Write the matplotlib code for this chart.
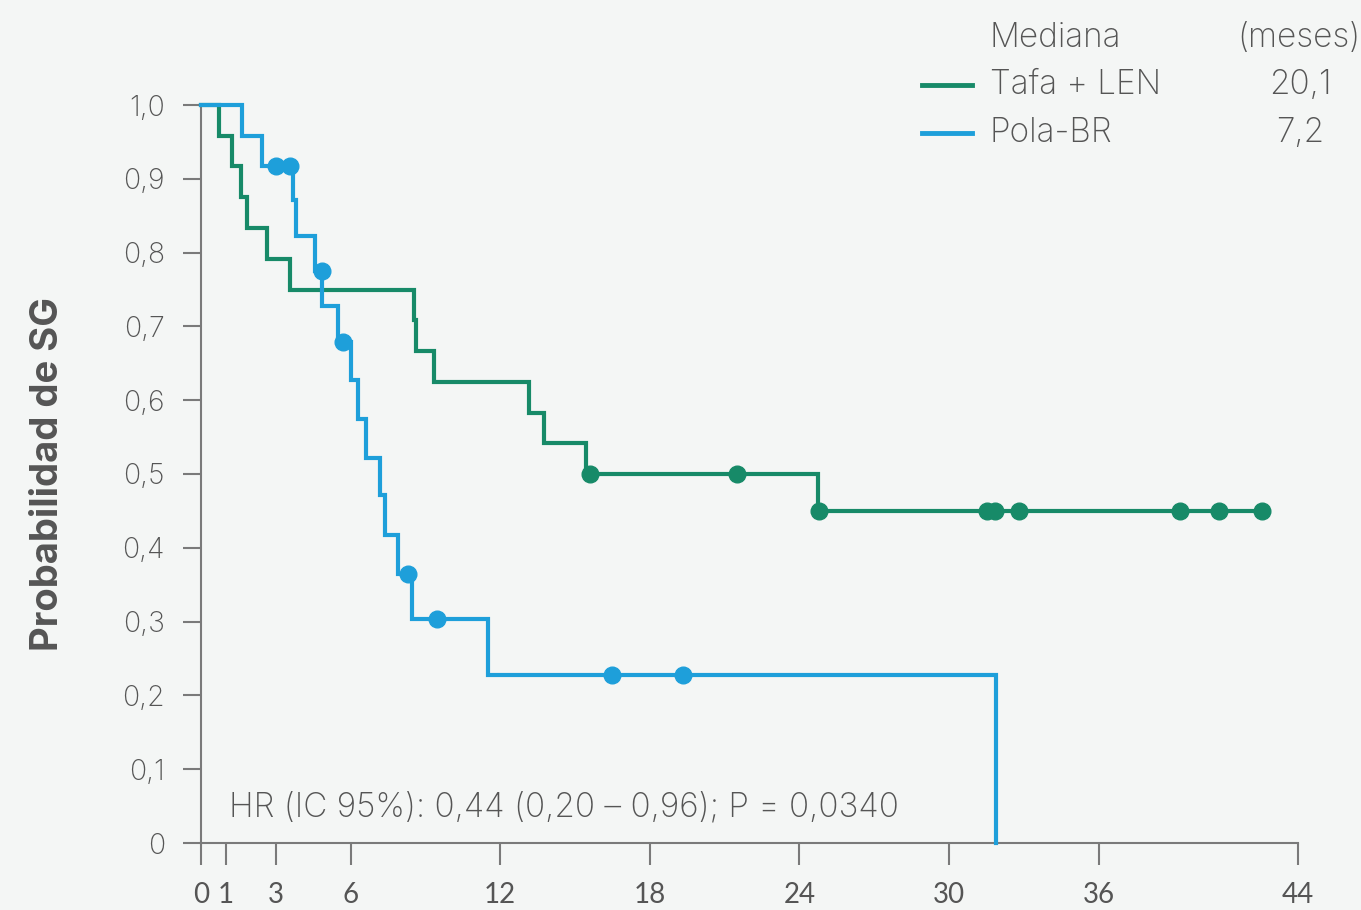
import matplotlib
matplotlib.use("Agg")
import matplotlib.pyplot as plt
from matplotlib.lines import Line2D

# ---- data ----
tafa_t = [0, 0.73, 1.23, 1.60, 1.83, 2.66, 3.57, 8.56, 8.62, 9.35, 13.17, 13.77, 15.43, 24.74, 42.56]
tafa_s = [1.0, 0.958, 0.917, 0.875, 0.833, 0.792, 0.750, 0.708, 0.667, 0.625, 0.583, 0.542, 0.500, 0.450, 0.450]
tafa_cens_t = [15.60, 21.49, 24.80, 31.52, 31.85, 32.81, 39.27, 40.84, 42.55]
tafa_cens_s = [0.500, 0.500, 0.450, 0.450, 0.450, 0.450, 0.450, 0.450, 0.450]

pola_t = [0, 1.63, 2.43, 3.70, 3.82, 4.57, 4.86, 5.51, 6.02, 6.31, 6.60, 7.18, 7.38, 7.92, 8.45, 11.52, 31.89]
pola_s = [1.0, 0.958, 0.917, 0.871, 0.823, 0.775, 0.728, 0.679, 0.627, 0.574, 0.522, 0.471, 0.418, 0.364, 0.304, 0.227, 0.0]
pola_cens_t = [3.00, 3.57, 4.84, 5.71, 8.29, 9.45, 16.47, 19.33]
pola_cens_s = [0.917, 0.917, 0.775, 0.679, 0.364, 0.304, 0.227, 0.227]

x_ticks = [0, 1, 3, 6, 12, 18, 24, 30, 36, 44]
y_ticks = [0, 0.1, 0.2, 0.3, 0.4, 0.5, 0.6, 0.7, 0.8, 0.9, 1.0]
y_labels = ["0", "0,1", "0,2", "0,3", "0,4", "0,5", "0,6", "0,7", "0,8", "0,9", "1,0"]

series_names = ["Tafa + LEN", "Pola-BR"]
medians = ["20,1", "7,2"]
hr_text = "HR (IC 95%): 0,44 (0,20 \u2013 0,96); P = 0,0340"

# ---- style ----
GREEN = "#178A68"
BLUE = "#1E9FDA"
BG = "#F4F6F5"
TXT = "#555555"
AX = "#7a7a7a"
plt.rcParams['font.family'] = ['Inter', 'DejaVu Sans']
LIGHT = 'light'

W, H = 1361, 910
fig = plt.figure(figsize=(W / 100, H / 100), dpi=100, facecolor=BG)
ax = fig.add_axes([201 / W, (H - 843) / H, (1298 - 201) / W, (843 - 105) / H], facecolor=BG)

ax.step(tafa_t, tafa_s, where='post', color=GREEN, lw=3.0, clip_on=False, solid_joinstyle='miter', zorder=3)
ax.step(pola_t, pola_s, where='post', color=BLUE, lw=3.0, clip_on=False, solid_joinstyle='miter', zorder=3)
ax.plot(tafa_cens_t, tafa_cens_s, 'o', color=GREEN, ms=12, clip_on=False, zorder=4)
ax.plot(pola_cens_t, pola_cens_s, 'o', color=BLUE, ms=12, clip_on=False, zorder=4)

ax.set_xlim(0, 44)
ax.set_ylim(0, 1)
ax.set_xticks(x_ticks)
ax.set_xticklabels([str(v) for v in x_ticks], family=['Lato', 'DejaVu Sans'], fontsize=20)
ax.set_yticks(y_ticks)
ax.set_yticklabels(y_labels, fontweight=LIGHT, fontsize=20.5)

for s in ['top', 'right']:
    ax.spines[s].set_visible(False)
for s in ['left', 'bottom']:
    ax.spines[s].set_color(AX)
    ax.spines[s].set_linewidth(1.5)
ax.tick_params(axis='y', length=13, width=1.5, color=AX, pad=13, labelcolor=TXT)
ax.tick_params(axis='x', length=16, width=1.5, color=AX, pad=12, labelcolor=TXT)

ax.set_ylabel("Probabilidad de SG", fontsize=27.5, fontweight='bold', color=TXT)
ax.yaxis.set_label_coords((66 - 201) / (1298 - 201), 0.5)

fig.text(229 / W, (H - 808) / H, hr_text, fontsize=24, fontweight=LIGHT, color=TXT,
         ha='left', va='center')

# ---- legend-like header ----
fig.text(990 / W, (H - 38) / H, "Mediana", fontsize=24, fontweight=LIGHT, color=TXT, ha='left', va='center')
fig.text(1299 / W, (H - 38) / H, "(meses)", fontsize=24, fontweight=LIGHT, color=TXT, ha='center', va='center')
for i, (name, med, col) in enumerate(zip(series_names, medians, [GREEN, BLUE])):
    yy = (H - 85 - 48 * i) / H
    fig.add_artist(Line2D([922 / W, 972 / W], [yy, yy], color=col, lw=3.5, transform=fig.transFigure))
    fig.text(990 / W, yy, name, fontsize=24, fontweight=LIGHT, color=TXT, ha='left', va='center')
    fig.text(1300 / W, yy, med, fontsize=24, fontweight=LIGHT, color=TXT, ha='center', va='center')

fig.savefig("out.png", dpi=100, facecolor=BG)
